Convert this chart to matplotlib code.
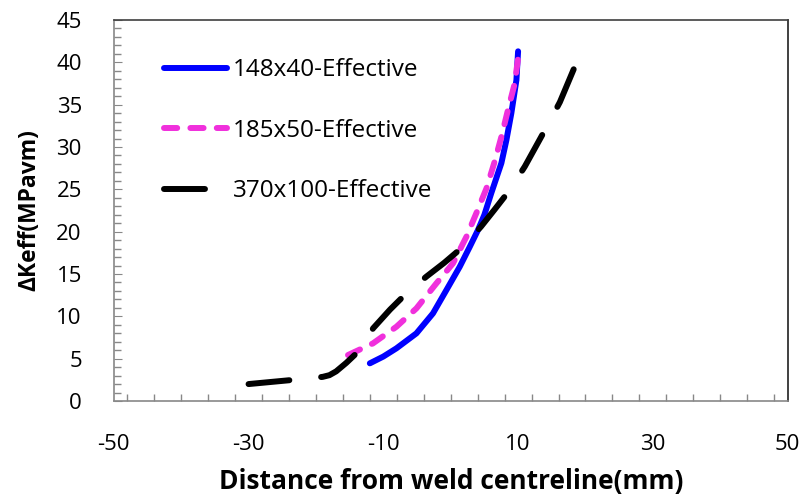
import matplotlib
matplotlib.use("Agg")
import matplotlib.pyplot as plt
from matplotlib.ticker import MultipleLocator

plt.rcParams['font.family'] = ['Open Sans', 'DejaVu Sans']
plt.rcParams['lines.scale_dashes'] = False
plt.rcParams['axes.unicode_minus'] = False

# Data
x_148 = [-12.0, -10.0, -8.06, -5.09, -2.63, -0.64, 1.34, 2.82, 4.05, 5.0, 6.0,
         7.52, 8.26, 9.0, 9.75, 10.0]
y_148 = [4.45, 5.25, 6.22, 7.99, 10.35, 13.1, 15.86, 18.2, 20.2, 22.0, 24.5,
         28.1, 30.8, 34.0, 37.9, 41.3]

x_185 = [-15.24, -11.53, -8.06, -5.09, -2.12, 0.34, 2.33, 3.81, 5.3, 6.53,
         7.52, 8.5, 9.5, 10.0]
y_185 = [5.43, 6.81, 8.77, 10.94, 13.9, 16.26, 19.4, 22.2, 25.1, 28.3,
         31.2, 34.4, 37.5, 40.5]

x_370 = [-30.0, -24.0, -19.0, -18.0, -17.0, -15.5, -13.75, -11.5, -9.0, -6.6,
         -3.6, -1.0, 1.8, 4.5, 6.5, 8.75, 11.0, 14.4, 16.2, 19.0]
y_370 = [2.0, 2.45, 2.85, 3.05, 3.5, 4.5, 5.82, 8.6, 10.8, 12.7,
         14.7, 16.3, 18.2, 20.6, 22.6, 24.9, 27.7, 32.6, 35.3, 40.6]

labels = ['148x40-Effective', '185x50-Effective', '370x100-Effective']
x_ticks = [-50, -30, -10, 10, 30, 50]
y_ticks = [0, 5, 10, 15, 20, 25, 30, 35, 40, 45]

fig = plt.figure(figsize=(8.07, 5.0), dpi=100)
ax = fig.add_axes([0.141, 0.198, 0.835, 0.762])

lw = 4.3
ax.plot(x_148, y_148, color='#0000FF', lw=lw, solid_capstyle='round',
        solid_joinstyle='round', label=labels[0])
l2, = ax.plot(x_185, y_185, color='#F030DC', lw=lw, dash_capstyle='round',
              dash_joinstyle='round', label=labels[1])
l2.set_dashes((9.5, 9.5))
l3, = ax.plot(x_370, y_370, color='black', lw=lw, dash_capstyle='round',
              dash_joinstyle='round', label=labels[2])
l3.set_dashes((29.5, 23))

ax.set_xlim(-50, 50)
ax.set_ylim(0, 45)
ax.set_xticks(x_ticks)
ax.set_yticks(y_ticks)
ax.xaxis.set_minor_locator(MultipleLocator(4))
ax.yaxis.set_minor_locator(MultipleLocator(1))

ax.tick_params(axis='x', which='major', direction='in', length=0,
               labelsize=16, pad=24, colors='#888888', labelcolor='black')
ax.tick_params(axis='x', which='minor', direction='in', length=5,
               width=1, colors='#888888')
ax.tick_params(axis='y', which='major', direction='in', length=6,
               labelsize=16, pad=23, colors='#888888', labelcolor='black')
ax.tick_params(axis='y', which='minor', direction='in', length=5,
               width=1, colors='#888888')

ax.spines['left'].set_color('#888888')
ax.spines['bottom'].set_color('#888888')
ax.spines['top'].set_color('#404040')
ax.spines['right'].set_color('#202020')
for s in ax.spines.values():
    s.set_linewidth(1.2)

ax.set_xlabel('Distance from weld centreline(mm)', fontsize=19,
              fontweight='bold', labelpad=9)
ax.set_ylabel('ΔKeff(MPavm)', fontsize=16.5, fontweight='bold', labelpad=11)

leg = ax.legend(loc='upper left', bbox_to_anchor=(0.06, 0.925), frameon=False,
                fontsize=17.5, handlelength=2.6, handletextpad=0.25,
                labelspacing=1.5, borderaxespad=0)

fig.savefig('out.png', dpi=100)
